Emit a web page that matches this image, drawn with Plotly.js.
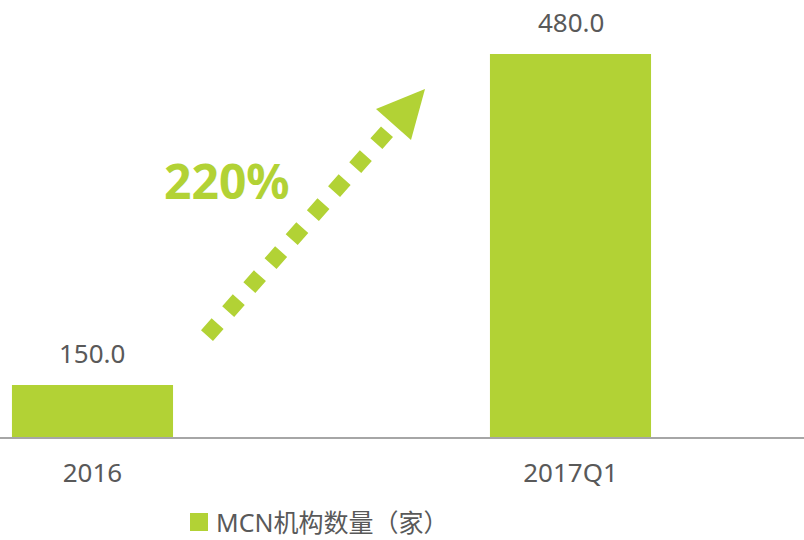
<!DOCTYPE html>
<html>
<head>
<meta charset="utf-8">
<script src="https://cdn.plot.ly/plotly-3.0.1.min.js"></script>
<style>html,body{margin:0;padding:0;background:#fff;}#chart{width:804px;height:540px;}</style>
</head>
<body>
<div id="chart"></div>
<script>
// ---- data ----
const categories = ["2016", "2017Q1"];
const mcnCounts = [150.0, 480.0];
const seriesName = "MCN机构数量（家）";

// ---- style ----
const GREEN = "#b2d235";
const GRAY = "#595959";
const FONT = "'Noto Sans', 'Noto Sans CJK SC', sans-serif";
const W = 804, PLOT_H = 437;
const px = x => x / W;            // pixel -> paper x
const py = y => 1 - y / PLOT_H;   // pixel -> paper y

const growth = Math.round((mcnCounts[1] - mcnCounts[0]) / mcnCounts[0] * 100);

const trace = {
  type: "bar",
  x: categories,
  y: mcnCounts,
  name: seriesName,
  marker: { color: GREEN },
  width: 0.337,
  showlegend: false,
  hoverinfo: "x+y"
};

// value labels above bars (x given as category index)
const annotations = categories.map((c, i) => ({
  x: i, y: mcnCounts[i], xref: "x", yref: "y",
  text: mcnCounts[i].toFixed(1),
  showarrow: false, yanchor: "bottom", yshift: 12,
  font: { family: FONT, size: 26, color: GRAY }
}));

annotations.push({
  xref: "paper", yref: "paper", x: px(227), y: py(180),
  text: "<b>" + growth + "%</b>", showarrow: false,
  xanchor: "center", yanchor: "middle",
  font: { family: FONT, size: 48, color: GREEN }
});

annotations.push({
  xref: "paper", yref: "paper", x: px(214), y: py(522),
  text: seriesName, showarrow: false,
  xanchor: "left", yanchor: "middle",
  font: { family: FONT, size: 25, color: GRAY }
});

const shapes = [
  { type: "line", xref: "paper", yref: "paper",
    x0: px(207), y0: py(335.6), x1: px(392), y1: py(126),
    line: { color: GREEN, width: 16, dash: "16px,16px" } },
  { type: "path", xref: "paper", yref: "paper",
    path: `M ${px(425)} ${py(89)} L ${px(376)} ${py(109)} L ${px(411)} ${py(140)} Z`,
    fillcolor: GREEN, line: { width: 0 } },
  { type: "rect", xref: "paper", yref: "paper",
    x0: px(190), x1: px(208), y0: py(513), y1: py(531),
    fillcolor: GREEN, line: { width: 0 } }
];

const layout = {
  width: 804, height: 540,
  margin: { l: 0, r: 0, t: 0, b: 103 },
  paper_bgcolor: "#fff", plot_bgcolor: "#fff",
  showlegend: false,
  xaxis: {
    type: "category",
    range: [-0.1935, 1.4885],
    showline: true, linecolor: "#a6a6a6", linewidth: 1.5,
    showgrid: false, zeroline: false, ticks: "",
    ticklabelstandoff: 12,
    tickfont: { family: FONT, size: 26, color: GRAY }
  },
  yaxis: {
    range: [98.2, 533.8],
    visible: false, showgrid: false, zeroline: false
  },
  annotations: annotations,
  shapes: shapes
};

Plotly.newPlot("chart", [trace], layout, { displayModeBar: false, staticPlot: true });
</script>
</body>
</html>
